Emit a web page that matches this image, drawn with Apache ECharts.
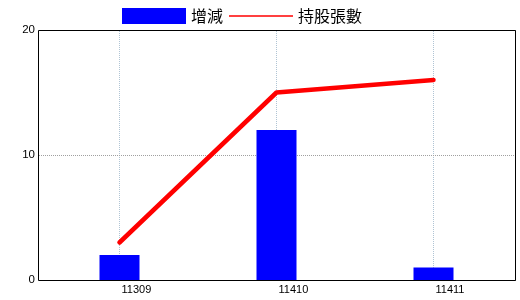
<!DOCTYPE html>
<html><head><meta charset="utf-8">
<script src="https://cdn.jsdelivr.net/npm/echarts@6/dist/echarts.min.js"></script>
<style>html,body{margin:0;padding:0;background:#fff}#c{width:520px;height:300px}</style>
</head><body><div id="c"></div>
<script>
const categories = ['11309', '11410', '11411'];
const changeValues = [2, 12, 1];
const holdingValues = [3, 15, 16];
const yTicks = [0, 10, 20];

const chart = echarts.init(document.getElementById('c'), null, {renderer: 'canvas'});
const font = '"Noto Sans CJK TC", "DejaVu Sans", sans-serif';
const numFont = '"Liberation Sans", Arial, sans-serif';
const yMin = yTicks[0], yMax = yTicks[yTicks.length - 1];
chart.setOption({
  animation: false,
  backgroundColor: '#fff',
  legend: {
    left: 117, top: 3,
    itemWidth: 64, itemHeight: 16, itemGap: 6,
    textStyle: {fontFamily: font, fontSize: 16, color: '#000'},
    data: [
      {name: '增減', icon: 'rect'},
      {name: '持股張數', icon: 'path://M0,0L64,0L64,1.6L0,1.6Z'}
    ]
  },
  grid: [
    {left: 41, right: 8, top: 30, bottom: 20, show: false},
    {left: 39, right: 4, top: 30, bottom: 20, show: false}
  ],
  graphic: [{
    type: 'rect', shape: {x: 38.5, y: 30.5, width: 477, height: 250},
    style: {fill: 'none', stroke: '#000', lineWidth: 1}, z: 100, silent: true
  }],
  xAxis: [{
    type: 'category', data: categories, gridIndex: 0,
    axisLine: {show: false}, axisTick: {show: false},
    axisLabel: {fontFamily: numFont, fontSize: 11, color: '#000', margin: 4, align: 'left', padding: [0, 0, 0, 2]},
    splitLine: {show: false}
  }, {
    type: 'value', gridIndex: 1, show: false
  }],
  yAxis: [{
    type: 'value', min: yMin, max: yMax, interval: 10, gridIndex: 0,
    axisLine: {show: false}, axisTick: {show: false},
    axisLabel: {fontFamily: numFont, fontSize: 11.5, color: '#000', margin: 6},
    splitLine: {show: false}
  }, {
    type: 'value', min: yMin, max: yMax, interval: 10, gridIndex: 1,
    axisLine: {show: false}, axisTick: {show: false}, axisLabel: {show: false},
    splitLine: {show: true, lineStyle: {color: '#a0a0a0', type: [1, 1], width: 1}}, z: 2
  }],
  series: [
    {type: 'line', data: [], z: 1, silent: true,
      markLine: {silent: true, symbol: 'none', label: {show: false}, z: 1,
        lineStyle: {color: '#b0c4d4', type: [1, 1], width: 1},
        data: categories.map(c => ({xAxis: c}))}},
    {name: '增減', type: 'bar', data: changeValues, barWidth: 40, z: 3, itemStyle: {color: '#0000ff'}},
    {name: '持股張數', type: 'line', data: holdingValues, symbol: 'none', z: 5,
      lineStyle: {color: '#ff0000', width: 4.5, cap: 'round', join: 'round'}, itemStyle: {color: '#ff0000'}}
  ]
});
</script></body></html>
